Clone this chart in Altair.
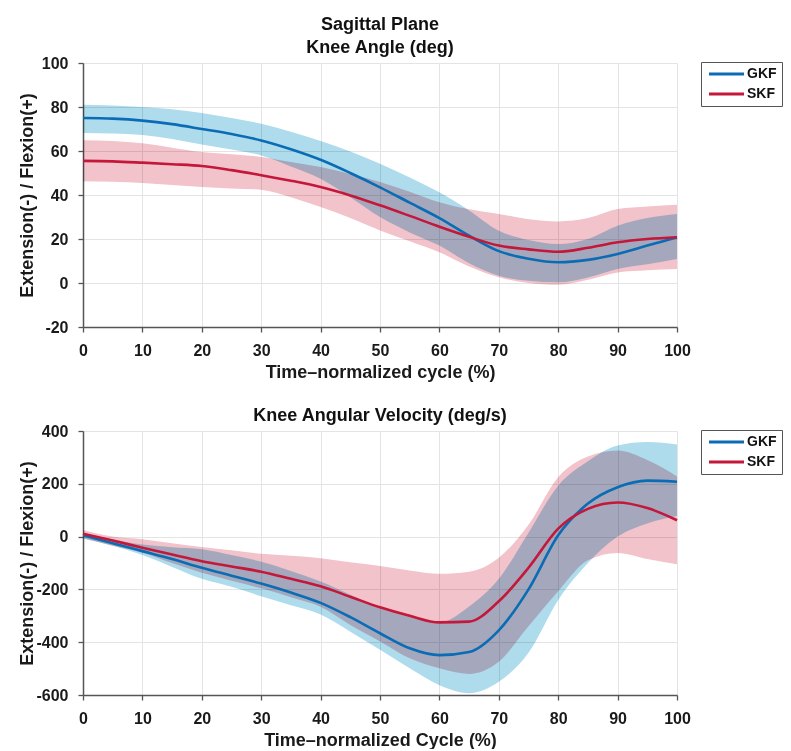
import altair as alt
import pandas as pd

# ---------------- data ----------------
pct = [0, 5, 10, 15, 20, 25, 30, 35, 40, 45, 50, 55, 60, 65, 70, 75, 80, 85, 90, 95, 100]
groups = ["GKF", "SKF"]

# Knee angle (deg)
gkf_ang_mean = [75, 74.7, 73.8, 72.2, 70, 67.7, 64.8, 60.8, 56, 50, 43.5, 36.5, 29.5, 21.5, 14.5, 11, 9.4, 10.5, 13.2, 17, 20.8]
gkf_ang_hi = [81, 80.7, 80, 79, 77.3, 75, 72.4, 68.8, 64.5, 59.8, 54.2, 48, 41.2, 33, 23.8, 19.5, 17.7, 20, 26, 29.5, 31.4]
gkf_ang_lo = [68.2, 68, 67.3, 65.5, 63, 60.7, 58, 53, 47.4, 39, 30, 23, 17, 9, 3.3, 1, 0.3, 2.5, 6.4, 8.5, 10.9]
skf_ang_mean = [55.5, 55.3, 54.7, 54, 53.2, 51.3, 49, 46.5, 43.6, 39.8, 35.3, 30.5, 25.6, 21, 17, 15.3, 14.2, 16, 18.5, 20, 20.8]
skf_ang_hi = [64.9, 64.5, 63.5, 61.5, 59.5, 58.5, 57.3, 55, 52.7, 49.5, 45.9, 41.5, 36.7, 33.5, 31.4, 29, 28, 29.5, 33.6, 34.8, 35.6]
skf_ang_lo = [46.2, 46, 45.5, 44.5, 43.6, 43, 42.4, 39, 34.5, 29.5, 23.9, 19, 14, 7.5, 2.6, 0, -0.8, 1.5, 4.8, 5.8, 6.4]

# Knee angular velocity (deg/s)
gkf_vel_mean = [5, -25, -55, -85, -118, -148, -178, -212, -251, -305, -366, -423, -449, -437, -355, -200, 5, 125, 187, 212, 208]
gkf_vel_hi = [15, -10, -30, -40, -48, -70, -95, -130, -170, -220, -270, -300, -325, -265, -160, 15, 193, 285, 345, 358, 349]
gkf_vel_lo = [-8, -35, -70, -115, -160, -190, -226, -260, -295, -360, -429, -499, -563, -593, -550, -440, -240, -100, 0, 50, 78]
skf_vel_mean = [11, -15, -42, -68, -93, -113, -133, -160, -188, -228, -268, -300, -325, -322, -245, -118, 30, 105, 129, 108, 62]
skf_vel_hi = [25, 0, -10, -25, -39, -52, -65, -73, -82, -97, -111, -128, -141, -133, -80, 45, 225, 303, 326, 290, 228]
skf_vel_lo = [-5, -35, -61, -100, -137, -167, -196, -230, -266, -335, -397, -461, -499, -520, -474, -340, -207, -90, -62, -85, -105]

# ---------------- styling ----------------
FONT = "Liberation Sans"
LINE_COLORS = ["#0a6cb4", "#c4173a"]
BAND_COLORS = ["#aedcec", "#f2c3cb"]
YTITLE = "Extension(-) / Flexion(+)"


def make_df(gm, glo, ghi, sm, slo, shi):
    rows = []
    for i, x in enumerate(pct):
        rows.append({"x": x, "group": "GKF", "band": "GKF band", "m": gm[i], "lo": glo[i], "hi": ghi[i]})
    for i, x in enumerate(pct):
        rows.append({"x": x, "group": "SKF", "band": "SKF band", "m": sm[i], "lo": slo[i], "hi": shi[i]})
    return pd.DataFrame(rows)


def panel(df, title, xtitle, ydomain, yticks):
    xenc = alt.X(
        "x:Q",
        scale=alt.Scale(domain=[0, 100], nice=False, zero=False),
        axis=alt.Axis(values=list(range(0, 101, 10)), title=xtitle),
    )
    yscale = alt.Scale(domain=ydomain, nice=False, zero=False)
    yaxis = alt.Axis(values=yticks, title=YTITLE, titleX=-47,
                     labelExpr="toString(datum.value)")
    base = alt.Chart(df)
    band = base.mark_area(interpolate="monotone", blend="multiply", opacity=1).encode(
        x=xenc,
        y=alt.Y("lo:Q", scale=yscale, axis=yaxis),
        y2="hi:Q",
        fill=alt.Fill("band:N", scale=alt.Scale(domain=["GKF band", "SKF band"], range=BAND_COLORS),
                      legend=None),
    )
    line = base.mark_line(interpolate="monotone", strokeWidth=2.6).encode(
        x=xenc,
        y=alt.Y("m:Q", scale=yscale, axis=yaxis),
        color=alt.Color(
            "group:N",
            scale=alt.Scale(domain=groups, range=LINE_COLORS),
            legend=alt.Legend(
                title=None,
                orient="none",
                legendX=618,
                legendY=-1,
                symbolType="M-0.8,0L6.2,0",
                symbolSize=100,
                symbolStrokeWidth=3,
                symbolFillColor="transparent",
                labelFont=FONT,
                labelFontSize=14,
                labelFontWeight="bold",
                labelColor="#111111",
                labelOffset=27,
                strokeColor="#555555",
                fillColor="white",
                padding=5,
                rowPadding=6,
            ),
        ),
    )
    return alt.layer(band, line).properties(
        width=594,
        height=264,
        title=alt.TitleParams(
            title, font=FONT, fontSize=18, fontWeight="bold", anchor="middle",
            frame="group", offset=-2, lineHeight=23, color="#111111",
        ),
    )


df_ang = make_df(gkf_ang_mean, gkf_ang_lo, gkf_ang_hi, skf_ang_mean, skf_ang_lo, skf_ang_hi)
df_vel = make_df(gkf_vel_mean, gkf_vel_lo, gkf_vel_hi, skf_vel_mean, skf_vel_lo, skf_vel_hi)

top = panel(df_ang, ["Sagittal Plane", "Knee Angle (deg)"], "Time\u2013normalized cycle (%)",
            [-20, 100], list(range(-20, 101, 20)))
bottom = panel(df_vel, "Knee Angular Velocity (deg/s)", "Time\u2013normalized Cycle (%)",
               [-600, 400], list(range(-600, 401, 200)))

chart = (
    alt.vconcat(top, bottom, spacing=26)
    .resolve_scale(y="independent", color="independent", fill="independent")
    .resolve_legend(color="independent", fill="independent")
    .configure_view(strokeWidth=0)
    .configure_axis(
        labelFont=FONT, labelFontSize=16, labelFontWeight="bold", labelColor="#1a1a1a",
        titleFont=FONT, titleFontSize=18, titleFontWeight="bold", titleColor="#1a1a1a",
        domainColor="#555555", domainWidth=1.5, tickColor="#555555", tickWidth=1.3, tickSize=5,
        gridColor="#e4e4e4", gridWidth=1, labelPadding=10, labelFlush=False, labelOverlap=False,
    )
    .configure_axisX(titlePadding=5)
    .properties(padding={"left": 9, "top": 8, "right": 0, "bottom": 0}, background="white")
)

chart.save("out.html", embed_options={"renderer": "svg", "actions": False})
